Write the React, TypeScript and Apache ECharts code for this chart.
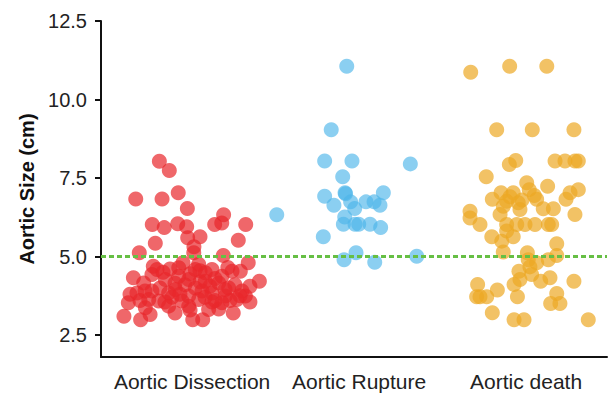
import React, { useEffect, useRef } from "react";
import * as echarts from "echarts";

const categories = ["Aortic Dissection", "Aortic Rupture", "Aortic death"];
const yTicks = [2.5, 5.0, 7.5, 10.0, 12.5];
const thresholdValue = 5.0;

// [jittered x position (category units), aortic size (cm)]
const dissection: number[][] = [
  [0.346, 8.03], [0.405, 7.74], [0.206, 6.83], [0.362, 6.83], [0.458, 7.03],
  [0.512, 6.53], [0.304, 6.02], [0.375, 5.92], [0.455, 6.04], [0.508, 5.95],
  [0.514, 5.6], [0.587, 5.63], [0.674, 6.02], [0.716, 6.07], [0.727, 6.33],
  [0.858, 6.02], [0.814, 5.52], [0.322, 5.42], [0.551, 5.31], [0.227, 5.12],
  [0.725, 5.03], [0.873, 4.8], [0.939, 4.21], [0.192, 4.32], [0.162, 3.53],
  [0.136, 3.1], [0.235, 2.99], [0.291, 3.15], [0.544, 2.99], [0.603, 2.99],
  [0.784, 3.2], [0.55, 5.12], [0.332, 4.59], [0.461, 4.64], [0.579, 4.75],
  [0.658, 4.59], [0.777, 4.53], [0.826, 4.53], [0.253, 4.16], [0.381, 4.27],
  [0.52, 4.27], [0.618, 4.21], [0.698, 4.16], [0.757, 4.0], [0.213, 3.84],
  [0.302, 3.9], [0.441, 3.95], [0.559, 4.0], [0.658, 3.84], [0.836, 3.9],
  [0.342, 3.58], [0.48, 3.58], [0.579, 3.63], [0.717, 3.53], [0.806, 3.63],
  [0.856, 3.74], [0.263, 3.37], [0.52, 3.42], [0.698, 3.33], [0.401, 3.84],
  [0.599, 3.9], [0.461, 4.37], [0.302, 4.43], [0.717, 4.37], [0.618, 4.48],
  [0.401, 3.42], [0.638, 3.31], [0.737, 3.74], [0.52, 3.74], [0.559, 4.59],
  [0.283, 3.63], [0.31, 4.69], [0.368, 4.5], [0.498, 4.1], [0.646, 4.05],
  [0.765, 3.6], [0.421, 3.7], [0.231, 3.6], [0.676, 3.6], [0.486, 4.8],
  [0.587, 4.2], [0.883, 3.55], [0.439, 3.2],
  [0.409, 4.6], [0.528, 4.45], [0.676, 4.3], [0.794, 4.1], [0.35, 4.0],
  [0.468, 3.8], [0.617, 3.7], [0.735, 3.95], [0.261, 3.9], [0.379, 3.55],
  [0.528, 3.3], [0.658, 3.55], [0.824, 3.75], [0.883, 4.05], [0.172, 3.8],
  [0.439, 4.15], [0.587, 4.55], [0.752, 4.65],
];

const rupture: number[][] = [
  [1.457, 11.06], [1.365, 9.04], [1.326, 8.04], [1.488, 8.04], [1.834, 7.95],
  [1.433, 7.54], [1.326, 6.92], [1.447, 7.03], [1.674, 7.03], [1.042, 6.33],
  [1.381, 6.63], [1.48, 6.74], [1.504, 6.53], [1.571, 6.74], [1.619, 6.74],
  [1.654, 6.63], [1.445, 6.26], [1.437, 6.03], [1.506, 6.03], [1.528, 6.03],
  [1.595, 6.03], [1.658, 5.92], [1.318, 5.63], [1.512, 5.12], [1.441, 4.9],
  [1.623, 4.82], [1.872, 5.01], [1.45, 7.0],
];

const death: number[][] = [
  [2.192, 10.87], [2.423, 11.06], [2.643, 11.06], [2.346, 9.04], [2.557, 9.04],
  [2.804, 9.04], [2.421, 7.93], [2.459, 8.06], [2.692, 8.04], [2.751, 8.04],
  [2.81, 8.04], [2.83, 8.04], [2.284, 7.54], [2.524, 7.35], [2.648, 7.24],
  [2.781, 7.03], [2.83, 7.13], [2.757, 6.82], [2.32, 6.82], [2.372, 7.03],
  [2.444, 7.03], [2.539, 7.13], [2.569, 6.94], [2.583, 6.82], [2.405, 6.76],
  [2.474, 6.71], [2.385, 6.6], [2.484, 6.5], [2.622, 6.52], [2.682, 6.52],
  [2.188, 6.44], [2.188, 6.23], [2.366, 6.34], [2.81, 6.34], [2.247, 6.02],
  [2.405, 6.02], [2.465, 6.02], [2.514, 6.02], [2.573, 6.02], [2.652, 6.02],
  [2.672, 6.02], [2.405, 5.81], [2.317, 5.63], [2.444, 5.63], [2.376, 5.49],
  [2.702, 5.41], [2.385, 5.14], [2.528, 5.12], [2.702, 5.03], [2.652, 4.9],
  [2.533, 4.9], [2.583, 4.8], [2.543, 4.67], [2.478, 4.53], [2.484, 4.27],
  [2.449, 4.11], [2.607, 4.21], [2.662, 4.32], [2.553, 4.43], [2.804, 4.21],
  [2.233, 4.11], [2.247, 3.72], [2.227, 3.72], [2.287, 3.72], [2.35, 3.93],
  [2.469, 3.72], [2.702, 3.82], [2.666, 3.5], [2.721, 3.5], [2.32, 3.21],
  [2.449, 2.99], [2.508, 2.99], [2.889, 2.99], [2.425, 6.9], [2.496, 6.8],
];

const FONT = "'Liberation Sans', Arial, Helvetica, sans-serif";

export default function App() {
  const ref = useRef<HTMLDivElement>(null);

  useEffect(() => {
    if (!ref.current) return;
    const chart = echarts.init(ref.current, undefined, { renderer: "svg" });

    const mkSeries = (name: string, data: number[][], color: string, opacity: number, extra: any = {}) => ({
      name,
      type: "scatter",
      data,
      symbol: "circle",
      symbolSize: 15,
      itemStyle: { color, opacity },
      emphasis: { disabled: true },
      ...extra,
    });

    chart.setOption({
      animation: false,
      grid: { left: 101, right: 9, top: 21, bottom: 39 },
      xAxis: {
        type: "value",
        min: 0,
        max: 3,
        splitLine: { show: false },
        axisLine: { show: true, onZero: false, lineStyle: { color: "#111", width: 2 } },
        axisTick: { show: false },
        axisLabel: {
          customValues: [0.54, 1.53, 2.52],
          formatter: (v: number) => categories[Math.floor(v)] ?? "",
          color: "#222",
          fontSize: 21,
          fontFamily: FONT,
          margin: 14,
        },
      },
      yAxis: {
        type: "value",
        min: 1.8,
        max: 12.5,
        name: "Aortic Size (cm)",
        nameLocation: "middle",
        nameGap: 64,
        nameTextStyle: { fontSize: 20, fontWeight: "bold", color: "#111", fontFamily: FONT },
        splitLine: { show: false },
        axisLine: { show: true, onZero: false, lineStyle: { color: "#111", width: 2 } },
        axisTick: { show: true, customValues: yTicks, length: 6, lineStyle: { color: "#111", width: 2 } },
        axisLabel: {
          customValues: yTicks,
          formatter: (v: number) => v.toFixed(1),
          color: "#222",
          fontSize: 20,
          fontFamily: FONT,
          margin: 14,
        },
      },
      series: [
        mkSeries(categories[0], dissection, "#e8262b", 0.7),
        mkSeries(categories[1], rupture, "#4db6ea", 0.65),
        mkSeries(categories[2], death, "#eca824", 0.7, {
          markLine: {
            silent: true,
            symbol: ["none", "none"],
            label: { show: false },
            lineStyle: { color: "#66bf44", width: 3.2, type: [5, 3], opacity: 1 },
            data: [{ yAxis: thresholdValue }],
          },
        }),
      ],
    });

    return () => chart.dispose();
  }, []);

  return <div ref={ref} style={{ width: 616, height: 396, position: "absolute", left: 0, top: 0 }} />;
}
